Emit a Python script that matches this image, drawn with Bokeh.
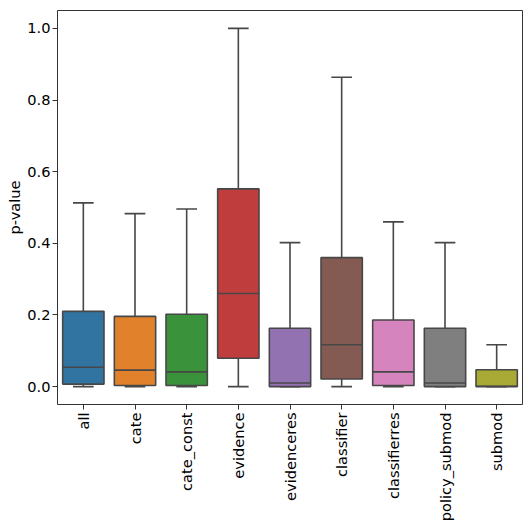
from bokeh.plotting import figure
from bokeh.models import FactorRange, Range1d, FixedTicker, PrintfTickFormatter, ColumnDataSource
from bokeh.transform import dodge
from bokeh.embed import file_html
from bokeh.resources import INLINE
import math

categories = ["all", "cate", "cate_const", "evidence", "evidenceres",
              "classifier", "classifierres", "policy_submod", "submod"]
whisker_low = [0.0, 0.0, 0.0, 0.0, 0.0, 0.0, 0.0, 0.0, 0.0]
q1 = [0.007, 0.003, 0.003, 0.079, 0.0, 0.021, 0.003, 0.0, 0.0]
median = [0.054, 0.046, 0.041, 0.260, 0.010, 0.117, 0.041, 0.010, 0.001]
q3 = [0.210, 0.196, 0.202, 0.552, 0.163, 0.360, 0.186, 0.163, 0.047]
whisker_high = [0.513, 0.483, 0.496, 1.0, 0.402, 0.8635, 0.460, 0.402, 0.117]
colors = ["#3274a1", "#e1812c", "#3a923a", "#c03d3e", "#9372b2",
          "#845b53", "#d684bd", "#7f7f7f", "#a9aa35"]
y_ticks = [0.0, 0.2, 0.4, 0.6, 0.8, 1.0]

FONT = "DejaVu Sans"
LINE = "#474747"
LW = 1.6
FS = "14.6px"

src = ColumnDataSource(dict(cat=categories, lo=whisker_low, q1=q1, med=median,
                            q3=q3, hi=whisker_high, color=colors))

p = figure(x_range=FactorRange(factors=categories, range_padding=0),
           y_range=Range1d(-0.05, 1.05),
           frame_width=465, frame_height=394, output_backend="svg", toolbar_location=None,
           min_border_left=57, min_border_right=2, min_border_top=10, min_border_bottom=0)

bw = 0.8
# whiskers
p.segment(x0="cat", y0="q3", x1="cat", y1="hi", source=src, line_color=LINE, line_width=LW)
p.segment(x0="cat", y0="lo", x1="cat", y1="q1", source=src, line_color=LINE, line_width=LW)
# caps
p.segment(x0=dodge("cat", -bw / 4, range=p.x_range), y0="hi",
          x1=dodge("cat", bw / 4, range=p.x_range), y1="hi",
          source=src, line_color=LINE, line_width=LW)
p.segment(x0=dodge("cat", -bw / 4, range=p.x_range), y0="lo",
          x1=dodge("cat", bw / 4, range=p.x_range), y1="lo",
          source=src, line_color=LINE, line_width=LW)
# boxes
p.vbar(x="cat", width=bw, bottom="q1", top="q3", source=src,
       fill_color="color", line_color=LINE, line_width=LW)
# medians
p.segment(x0=dodge("cat", -bw / 2, range=p.x_range), y0="med",
          x1=dodge("cat", bw / 2, range=p.x_range), y1="med",
          source=src, line_color=LINE, line_width=LW)

p.xgrid.visible = False
p.ygrid.visible = False
p.outline_line_color = "#333333"
p.outline_line_width = 1

for ax in (p.xaxis[0], p.yaxis[0]):
    ax.axis_line_color = None
    ax.major_tick_in = 0
    ax.major_tick_out = 5
    ax.major_tick_line_color = "#333333"
    ax.minor_tick_line_color = None
    ax.major_label_text_font = FONT
    ax.major_label_text_font_size = FS
    ax.major_label_text_color = "#000000"

p.yaxis.ticker = FixedTicker(ticks=y_ticks)
p.yaxis.formatter = PrintfTickFormatter(format="%.1f")
p.yaxis.axis_label = "p-value"
p.yaxis.axis_label_text_font = FONT
p.yaxis.axis_label_text_font_size = FS
p.yaxis.axis_label_text_font_style = "normal"
p.yaxis.axis_label_text_color = "#000000"
p.yaxis.axis_label_standoff = 1
p.yaxis.major_label_standoff = 2
p.xaxis.major_label_orientation = math.pi / 2
p.xaxis.major_label_standoff = 3

open("out.html", "w").write(file_html(p, INLINE))
